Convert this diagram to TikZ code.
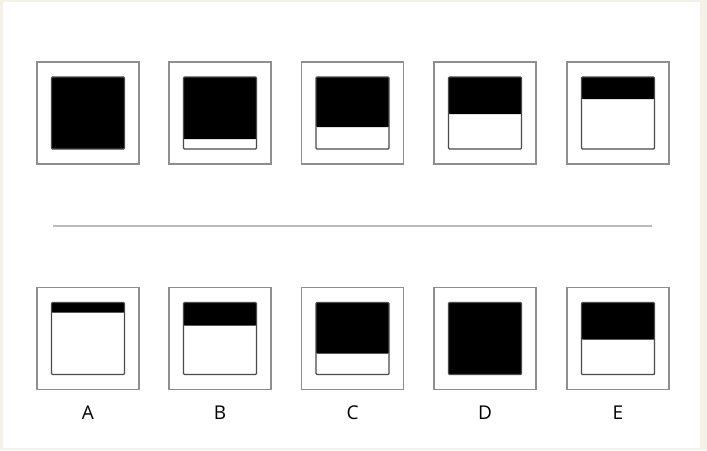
\documentclass[tikz,border=0pt]{standalone}
\usepackage{fontspec}
\setmainfont{Open Sans}
\usepackage{tikz}
\usetikzlibrary{positioning}
\definecolor{paper}{HTML}{F4F1E9}
\definecolor{framegray}{HTML}{8E8E8E}
\definecolor{panelgray}{HTML}{4A4A4A}
\definecolor{rulegray}{HTML}{BDBDBD}
\tikzset{
  frame/.style={draw=framegray, line width=1.2pt, minimum size=102pt, inner sep=0pt},
  panel/.style={draw=panelgray, line width=1.4pt, fill=white, rounded corners=1pt,
    minimum width=73pt, minimum height=72pt, inner sep=0pt},
  shade/.style={path picture={\fill[black] (path picture bounding box.north west)
    rectangle ([yshift=#1]path picture bounding box.south east);}},
  letter/.style={font=\fontsize{19}{19}\selectfont, inner sep=0pt}
}
\begin{document}
\begin{tikzpicture}[x=1pt, y=-1pt]
\useasboundingbox (0,0) rectangle (707,450);
\fill[paper] (0,0) rectangle (707,450);
\fill[white] (3,2) rectangle (700,448);
% question row: x / white part of the panel
\foreach \cx/\wh [count=\i] in {88/0, 220/10, 352.5/22, 485/35, 618/50} {
  \node[frame] (q\i) at (\cx,113) {};
  \node[panel, shade=\wh pt] (qp\i) at (q\i.center) {};
}
\coordinate (ruleL) at (53,226);
\coordinate (ruleR) at (652,226);
\draw[rulegray, line width=2pt] (ruleL) -- (ruleR);
% answer row
\foreach \cx/\wh/\lbl in {88/62/A, 220/49/B, 352.5/21/C, 485/0/D, 618/35/E} {
  \node[frame] (a\lbl) at (\cx,338.5) {};
  \node[panel, shade=\wh pt] (ap\lbl) at (a\lbl.center) {};
  \node[letter] (l\lbl) at (\cx,413) {\lbl};
}
\end{tikzpicture}
\end{document}
